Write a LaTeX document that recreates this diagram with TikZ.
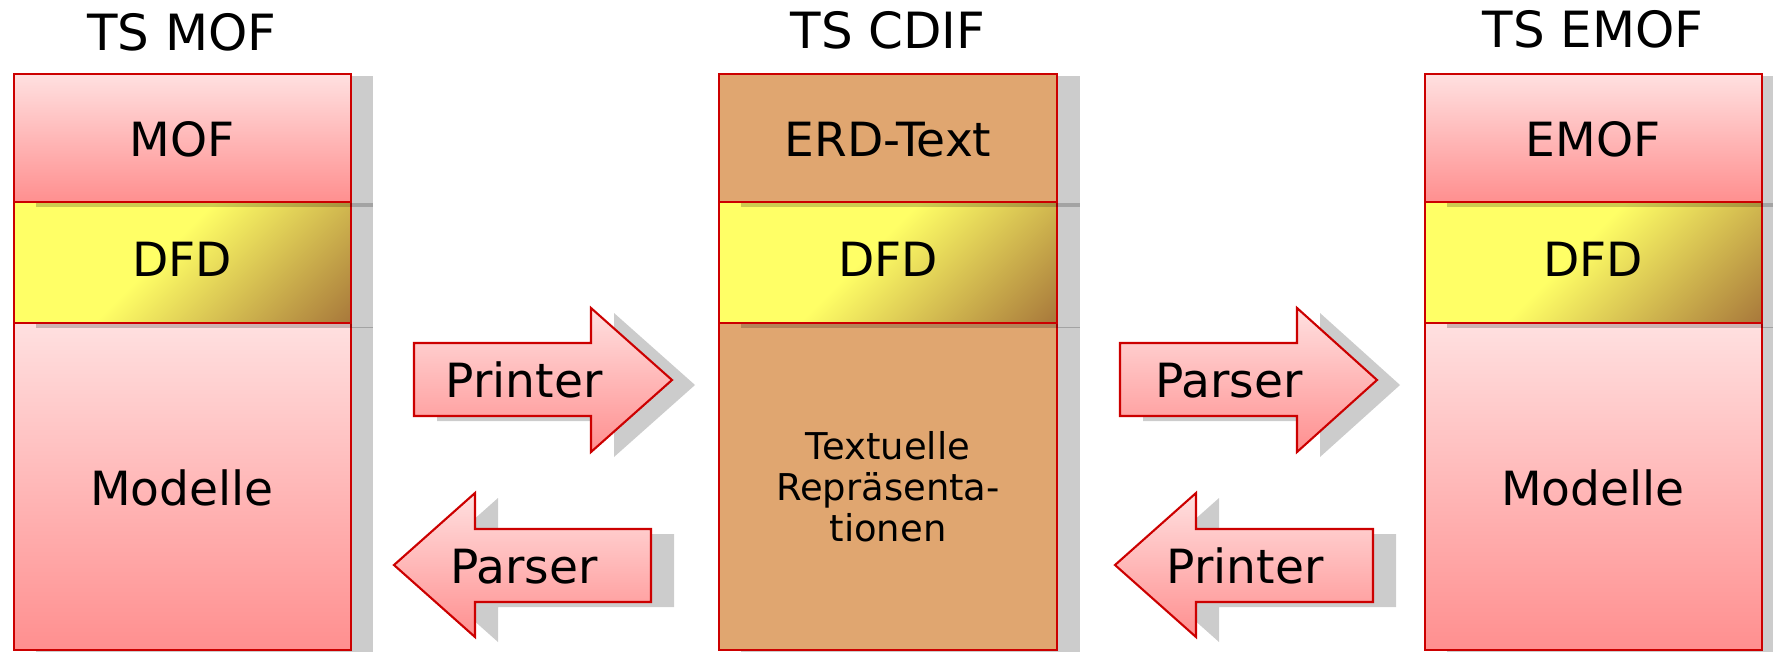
\documentclass[tikz,border=0pt]{standalone}
\usepackage{fontspec}
\setmainfont{DejaVu Sans}

\definecolor{pinktop}{HTML}{FFE0E0}
\definecolor{pinkbot}{HTML}{FF8F8F}
\definecolor{cdiftan}{HTML}{E0A670}
\definecolor{boxred}{HTML}{CC0000}
\definecolor{dfdyellow}{HTML}{FFFF66}
\definecolor{dfdbrown}{HTML}{9A6334}

\pgfdeclarehorizontalshading{dfdshade}{100bp}{color(0bp)=(dfdyellow); color(47bp)=(dfdyellow); color(78bp)=(dfdbrown); color(100bp)=(dfdbrown)}

\tikzset{
  shadowbox/.style={fill=black,fill opacity=0.2,draw=none},
  pinkbox/.style={draw=boxred,line width=0.6pt,top color=pinktop,bottom color=pinkbot},
  tanbox/.style={draw=boxred,line width=0.6pt,fill=cdiftan},
  redline/.style={draw=boxred,line width=0.6pt},
  arrowshape/.style={draw=boxred,line width=0.6pt,line join=miter,top color=pinktop,bottom color=pinkbot},
  heading/.style={anchor=base,inner sep=0pt,font=\fontsize{14.2}{17}\selectfont},
  boxtext/.style={anchor=base,inner sep=0pt,font=\fontsize{13.4}{16}\selectfont},
  smalltext/.style={align=center,inner sep=0pt,font=\fontsize{10.5}{11.7}\selectfont}
}

\begin{document}
\begin{tikzpicture}[x=0.01cm,y=-0.01cm]
\useasboundingbox (0,0) rectangle (1773,651);
% TS MOF
\fill[shadowbox] (36,327) rectangle (373,660);
\draw[pinkbox] (14,323) rectangle (351,650);
\fill[shadowbox] (36,203) rectangle (373,328);
\begin{scope}
\clip (14,202) rectangle (351,323);
\shade[shading=dfdshade,shading angle=-45] (12.5,92.5) rectangle (352.5,432.5);
\end{scope}
\draw[redline] (14,202) rectangle (351,323);
\fill[shadowbox] (36,76) rectangle (373,207);
\draw[pinkbox] (14,74) rectangle (351,202);
% TS CDIF
\fill[shadowbox] (741,327) rectangle (1080,660);
\draw[tanbox] (719,323) rectangle (1057,650);
\fill[shadowbox] (741,203) rectangle (1080,328);
\begin{scope}
\clip (719,202) rectangle (1057,323);
\shade[shading=dfdshade,shading angle=-45] (718,92.5) rectangle (1058,432.5);
\end{scope}
\draw[redline] (719,202) rectangle (1057,323);
\fill[shadowbox] (741,76) rectangle (1080,207);
\draw[tanbox] (719,74) rectangle (1057,202);
% TS EMOF
\fill[shadowbox] (1447,327) rectangle (1784,660);
\draw[pinkbox] (1425,323) rectangle (1762,650);
\fill[shadowbox] (1447,203) rectangle (1784,328);
\begin{scope}
\clip (1425,202) rectangle (1762,323);
\shade[shading=dfdshade,shading angle=-45] (1423.5,92.5) rectangle (1763.5,432.5);
\end{scope}
\draw[redline] (1425,202) rectangle (1762,323);
\fill[shadowbox] (1447,76) rectangle (1784,207);
\draw[pinkbox] (1425,74) rectangle (1762,202);

% headings
\node[heading] (tsmof) at (182,50) {TS MOF};
\node[heading] (tscdif) at (888,48) {TS CDIF};
\node[heading] (tsemof) at (1593,47) {TS EMOF};
% box texts
\node[boxtext] (mof) at (182,156) {MOF};
\node[boxtext] (dfdl) at (182,276) {DFD};
\node[boxtext] (modl) at (182,505) {Modelle};
\node[boxtext] (erd) at (888,156) {ERD-Text};
\node[boxtext] (dfdm) at (888,276) {DFD};
\node[smalltext] (textrep) at (888,487) {Textuelle\\Repräsenta-\\tionen};
\node[boxtext] (emof) at (1593,156) {EMOF};
\node[boxtext] (dfdr) at (1593,276) {DFD};
\node[boxtext] (modr) at (1593,505) {Modelle};

% arrows left
\fill[shadowbox,shift={(23,5)}] (414,343) -- (591,343) -- (591,308) -- (672,380) -- (591,452) -- (591,416) -- (414,416) -- cycle;
\draw[arrowshape] (414,343) -- (591,343) -- (591,308) -- (672,380) -- (591,452) -- (591,416) -- (414,416) -- cycle;
\fill[shadowbox,shift={(23,5)}] (651,529) -- (475,529) -- (475,493) -- (394,565) -- (475,637) -- (475,602) -- (651,602) -- cycle;
\draw[arrowshape] (651,529) -- (475,529) -- (475,493) -- (394,565) -- (475,637) -- (475,602) -- (651,602) -- cycle;
% arrows right
\fill[shadowbox,shift={(23,5)}] (1120,343) -- (1297,343) -- (1297,308) -- (1377,380) -- (1297,452) -- (1297,416) -- (1120,416) -- cycle;
\draw[arrowshape] (1120,343) -- (1297,343) -- (1297,308) -- (1377,380) -- (1297,452) -- (1297,416) -- (1120,416) -- cycle;
\fill[shadowbox,shift={(23,5)}] (1373,529) -- (1196,529) -- (1196,493) -- (1115,565) -- (1196,637) -- (1196,602) -- (1373,602) -- cycle;
\draw[arrowshape] (1373,529) -- (1196,529) -- (1196,493) -- (1115,565) -- (1196,637) -- (1196,602) -- (1373,602) -- cycle;

\node[boxtext] (printl) at (524,397) {Printer};
\node[boxtext] (parsel) at (524,583) {Parser};
\node[boxtext] (parser) at (1229,397) {Parser};
\node[boxtext] (printr) at (1245,583) {Printer};
\end{tikzpicture}
\end{document}
